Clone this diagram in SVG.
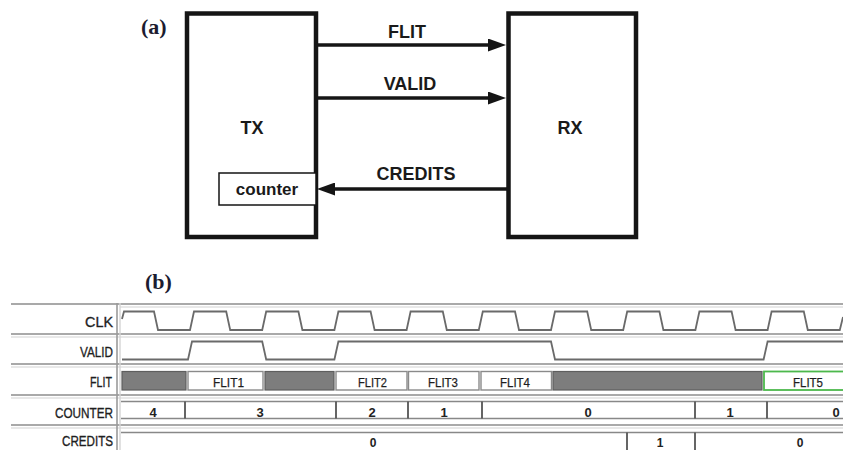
<svg xmlns="http://www.w3.org/2000/svg" width="843" height="450" viewBox="0 0 843 450">
<style>
.box{fill:#fff;stroke:#151515;stroke-width:4.5}
.big{font-family:"Liberation Sans",Arial,sans-serif;font-weight:bold;font-size:18px;fill:#1a1a1a}
.cap{font-family:"Liberation Serif","Times New Roman",serif;font-weight:bold;font-size:22px;fill:#1c1c30}
.conn{stroke:#151515;stroke-width:3.6;fill:none}
.sep{stroke:#8c8c8c;stroke-width:1.6}
.sep2{stroke:#d2d2d2;stroke-width:1.2}
.wave{fill:none;stroke:#6a6a6a;stroke-width:1.8}
.lbl{font-family:"Liberation Sans",Arial,sans-serif;font-size:15px;fill:#1e1e1e;stroke:#1e1e1e;stroke-width:0.35}
.cell{font-family:"Liberation Sans",Arial,sans-serif;font-size:13px;fill:#1e1e1e;stroke:#1e1e1e;stroke-width:0.25}
.num{font-family:"Liberation Sans",Arial,sans-serif;font-size:13px;font-weight:bold;fill:#222;text-anchor:middle}
.gray{fill:#7d7d7d;stroke:#5e5e5e;stroke-width:1.2}
.white{fill:#fff;stroke:#8a8a8a;stroke-width:1.4}
.bus{stroke:#888;stroke-width:1.4}
.tick{stroke:#555;stroke-width:1.8}
</style>
<defs>
<marker id="ah" viewBox="0 0 18 13" refX="12" refY="6.5" markerWidth="18" markerHeight="13" markerUnits="userSpaceOnUse" orient="auto">
<path d="M0,0 L18,6.5 L0,13 z" fill="#151515"/>
</marker>
</defs>
<rect width="843" height="450" fill="#fff"/>

<text class="cap" x="141" y="34">(a)</text>

<g id="TX">
<rect class="box" x="187" y="13.5" width="129" height="223.5"/>
<text class="big" x="252" y="134" text-anchor="middle">TX</text>
</g>
<g id="counter">
<rect x="219" y="173" width="97" height="32" fill="#fff" stroke="#151515" stroke-width="1.5"/>
<text class="big" x="267" y="195" text-anchor="middle" style="font-size:17px">counter</text>
</g>
<g id="RX">
<rect class="box" x="508.5" y="13.5" width="127.5" height="223.5"/>
<text class="big" x="570" y="134" text-anchor="middle">RX</text>
</g>
<g id="connectors">
<line class="conn" x1="318" y1="45" x2="500" y2="45" marker-end="url(#ah)"/>
<line class="conn" x1="318" y1="98" x2="500" y2="98" marker-end="url(#ah)"/>
<line class="conn" x1="507" y1="189" x2="323" y2="189" marker-end="url(#ah)"/>
<text class="big" x="407" y="38" text-anchor="middle">FLIT</text>
<text class="big" x="410" y="90" text-anchor="middle">VALID</text>
<text class="big" x="416" y="180" text-anchor="middle">CREDITS</text>
</g>

<text class="cap" x="145" y="289">(b)</text>

<g id="timing">
<line class="sep" x1="11" y1="304" x2="843" y2="304"/>
<line class="sep2" x1="120" y1="307" x2="843" y2="307"/>
<line class="sep" x1="11" y1="334" x2="843" y2="334"/>
<line class="sep2" x1="11" y1="337" x2="843" y2="337"/>
<line class="sep" x1="11" y1="364" x2="843" y2="364"/>
<line class="sep2" x1="11" y1="367" x2="843" y2="367"/>
<line class="sep" x1="11" y1="395" x2="843" y2="395"/>
<line class="sep2" x1="11" y1="398" x2="843" y2="398"/>
<line class="sep" x1="11" y1="425" x2="843" y2="425"/>
<line class="sep2" x1="11" y1="428" x2="843" y2="428"/>
<line x1="117" y1="303" x2="117" y2="450" stroke="#9a9a9a" stroke-width="1.6"/>
<line x1="120" y1="303" x2="120" y2="450" stroke="#d4d4d4" stroke-width="1.4"/>

<text class="lbl" x="85" y="327" textLength="28" lengthAdjust="spacingAndGlyphs">CLK</text>
<text class="lbl" x="80" y="357" textLength="33" lengthAdjust="spacingAndGlyphs">VALID</text>
<text class="lbl" x="90" y="387" textLength="22" lengthAdjust="spacingAndGlyphs">FLIT</text>
<text class="lbl" x="55" y="418" textLength="58" lengthAdjust="spacingAndGlyphs">COUNTER</text>
<text class="lbl" x="62" y="446" textLength="51" lengthAdjust="spacingAndGlyphs">CREDITS</text>

<path class="wave" d="M122,319 L124,311.5 H154 L158,330 H190 L194,311.5 H226.2 L230.2,330 H262.2 L266.2,311.5 H298.4 L302.4,330 H334.4 L338.4,311.5 H370.6 L374.6,330 H406.6 L410.6,311.5 H442.8 L446.8,330 H478.8 L482.8,311.5 H515 L519,330 H551 L555,311.5 H587.2 L591.2,330 H623.2 L627.2,311.5 H659.4 L663.4,330 H695.4 L699.4,311.5 H731.6 L735.6,330 H767.6 L771.6,311.5 H803.8 L807.8,330 H839.8 L843,317"/>
<path class="wave" d="M122,359.5 H188 L192,341.5 H262.2 L266.2,359.5 H334.4 L338.4,341.5 H551 L555,359.5 H763.6 L767.6,341.5 H843"/>

<rect class="gray" x="122" y="371.5" width="64" height="18.5"/>
<rect class="white" x="188" y="371.5" width="75" height="18.5"/>
<rect class="gray" x="265" y="371.5" width="69" height="18.5"/>
<rect class="white" x="336" y="371.5" width="71" height="18.5"/>
<rect class="white" x="408.5" y="371.5" width="70.5" height="18.5"/>
<rect class="white" x="481" y="371.5" width="70.5" height="18.5"/>
<rect class="gray" x="553" y="371.5" width="209" height="18.5"/>
<rect x="764" y="371.5" width="82" height="18.5" fill="#fff" stroke="#4cb84c" stroke-width="1.8"/>
<text class="cell" x="213" y="387" textLength="31" lengthAdjust="spacingAndGlyphs">FLIT1</text>
<text class="cell" x="358" y="387" textLength="29" lengthAdjust="spacingAndGlyphs">FLIT2</text>
<text class="cell" x="428" y="387" textLength="30" lengthAdjust="spacingAndGlyphs">FLIT3</text>
<text class="cell" x="500" y="387" textLength="30" lengthAdjust="spacingAndGlyphs">FLIT4</text>
<text class="cell" x="793" y="387" textLength="30" lengthAdjust="spacingAndGlyphs">FLIT5</text>

<line class="bus" x1="121" y1="401.5" x2="843" y2="401.5"/>
<line class="bus" x1="121" y1="418.5" x2="843" y2="418.5"/>
<path class="tick" d="M185,401.5 V418.5 M336,401.5 V418.5 M408,401.5 V418.5 M482,401.5 V418.5 M695,401.5 V418.5 M767,401.5 V418.5"/>
<text class="num" x="153" y="417">4</text>
<text class="num" x="260" y="417">3</text>
<text class="num" x="372" y="417">2</text>
<text class="num" x="444" y="417">1</text>
<text class="num" x="588" y="417">0</text>
<text class="num" x="730" y="417">1</text>
<text class="num" x="836" y="417">0</text>

<line class="bus" x1="121" y1="432.5" x2="843" y2="432.5"/>
<path class="tick" d="M627,432.5 V450 M695,432.5 V450"/>
<text class="num" x="373" y="447" style="font-size:12px">0</text>
<text class="num" x="660" y="447" style="font-size:12px">1</text>
<text class="num" x="800" y="447" style="font-size:12px">0</text>
</g>
</svg>
